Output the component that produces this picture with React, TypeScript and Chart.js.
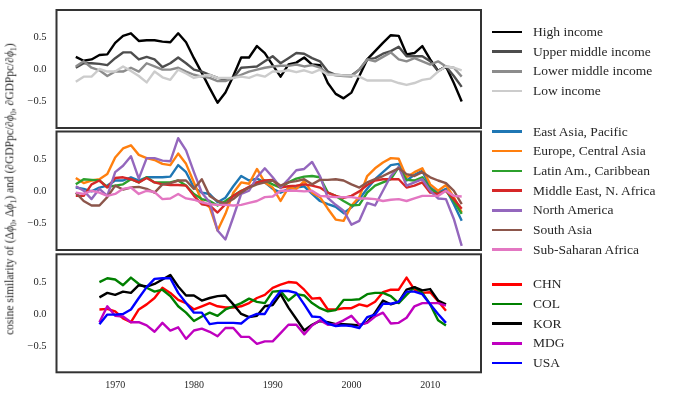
import { useEffect, useRef } from 'react';
import { Chart, registerables } from 'chart.js';

Chart.register(...registerables);

// years for the income / region panels
const YEARS = [
  1965, 1966, 1967, 1968, 1969, 1970, 1971, 1972, 1973, 1974,
  1975, 1976, 1977, 1978, 1979, 1980, 1981, 1982, 1983, 1984,
  1985, 1986, 1987, 1988, 1989, 1990, 1991, 1992, 1993, 1994,
  1995, 1996, 1997, 1998, 1999, 2000, 2001, 2002, 2003, 2004,
  2005, 2006, 2007, 2008, 2009, 2010, 2011, 2012, 2013, 2014,
];
// years for the country panel
const COUNTRY_YEARS = [
  1968, 1969, 1970, 1971, 1972, 1973, 1974, 1975, 1976, 1977,
  1978, 1979, 1980, 1981, 1982, 1983, 1984, 1985, 1986, 1987,
  1988, 1989, 1990, 1991, 1992, 1993, 1994, 1995, 1996, 1997,
  1998, 1999, 2000, 2001, 2002, 2003, 2004, 2005, 2006, 2007,
  2008, 2009, 2010, 2011, 2012,
];

const X_TICKS = [1970, 1980, 1990, 2000, 2010];
const Y_TICKS = [-0.5, 0, 0.5];

// income groups
const INCOME_LABELS = ['High income', 'Upper middle income', 'Lower middle income', 'Low income'];
const INCOME_COLORS = ['#000000', '#4d4d4d', '#8c8c8c', '#cccccc'];
const HIGH_INCOME = [
  0.20, 0.14, 0.16, 0.23, 0.24, 0.42, 0.53, 0.57, 0.45, 0.46,
  0.46, 0.44, 0.43, 0.57, 0.43, 0.18, -0.05, -0.29, -0.52, -0.36,
  -0.10, 0.19, 0.19, 0.37, 0.26, 0.07, -0.11, 0.08, 0.11, 0.19,
  0.08, 0.07, -0.21, -0.38, -0.45, -0.36, -0.10, 0.16, 0.29, 0.42,
  0.54, 0.53, 0.24, 0.26, 0.37, 0.16, -0.02, 0.05, -0.21, -0.50,
];
const UPPER_MIDDLE = [
  0.03, 0.10, 0.10, 0.09, 0.07, 0.18, 0.27, 0.27, 0.16, 0.20,
  0.16, 0.04, 0.10, 0.19, 0.10, 0.00, -0.03, -0.08, -0.13, -0.16,
  -0.13, 0.03, 0.04, 0.05, 0.13, 0.21, 0.10, 0.18, 0.26, 0.25,
  0.18, 0.13, -0.03, -0.08, -0.09, -0.09, 0.00, 0.16, 0.18, 0.25,
  0.29, 0.36, 0.21, 0.21, 0.21, 0.13, -0.02, 0.05, -0.10, -0.27,
];
const LOWER_MIDDLE = [
  0.05, 0.13, 0.03, -0.01, -0.10, -0.03, -0.03, 0.03, -0.03, 0.10,
  0.05, 0.00, 0.00, 0.03, -0.03, -0.08, -0.11, -0.13, -0.18, -0.18,
  -0.13, -0.08, -0.03, 0.00, 0.03, 0.05, 0.06, 0.06, 0.08, 0.05,
  0.07, 0.03, -0.06, -0.09, -0.10, -0.11, 0.00, 0.16, 0.13, 0.20,
  0.27, 0.16, 0.13, 0.18, 0.13, 0.08, 0.13, 0.05, 0.03, -0.11,
];
const LOW_INCOME = [
  -0.19, -0.11, -0.11, 0.01, -0.03, -0.03, 0.05, -0.02, -0.10, -0.20,
  -0.03, -0.12, -0.16, 0.00, -0.06, -0.13, -0.10, -0.08, -0.13, -0.13,
  -0.13, -0.11, -0.13, -0.08, -0.11, -0.03, -0.03, -0.01, -0.04, -0.01,
  -0.05, 0.00, -0.08, -0.08, -0.09, -0.09, -0.11, -0.17, -0.17, -0.17,
  -0.17, -0.21, -0.24, -0.21, -0.16, -0.14, -0.03, 0.05, 0.03, -0.01,
];

// regions
const REGION_LABELS = [
  'East Asia, Pacific', 'Europe, Central Asia', 'Latin Am., Caribbean',
  'Middle East, N. Africa', 'North America', 'South Asia', 'Sub-Saharan Africa',
];
const REGION_COLORS = ['#1f77b4', '#ff7f0e', '#2ca02c', '#d62728', '#9467bd', '#8c564b', '#e377c2'];
const EAST_ASIA = [
  0.06, 0.04, 0.00, 0.06, 0.09, 0.17, 0.17, 0.22, 0.17, 0.22,
  0.22, 0.22, 0.23, 0.41, 0.30, 0.06, -0.02, -0.04, -0.17, -0.10,
  0.08, 0.24, 0.17, 0.20, 0.14, 0.04, -0.02, 0.04, 0.06, 0.08,
  -0.04, -0.15, -0.20, -0.24, -0.34, -0.25, -0.12, 0.04, 0.19, 0.30,
  0.41, 0.43, 0.17, 0.26, 0.32, 0.06, -0.02, 0.04, -0.20, -0.46,
];
const EUROPE = [
  0.21, 0.13, 0.17, 0.19, 0.27, 0.53, 0.67, 0.72, 0.57, 0.52,
  0.49, 0.43, 0.41, 0.59, 0.43, 0.14, -0.15, -0.25, -0.61, -0.35,
  -0.02, 0.14, 0.12, 0.35, 0.14, 0.06, -0.15, 0.06, 0.04, 0.16,
  -0.02, -0.09, -0.27, -0.44, -0.46, -0.22, -0.09, 0.24, 0.36, 0.45,
  0.52, 0.51, 0.22, 0.30, 0.36, 0.11, 0.01, 0.10, -0.09, -0.33,
];
const LATIN = [
  0.11, 0.19, 0.18, 0.17, 0.07, 0.09, 0.11, 0.19, 0.14, 0.22,
  0.14, 0.14, 0.14, 0.17, 0.09, -0.04, -0.12, -0.15, -0.22, -0.15,
  -0.07, 0.01, 0.06, 0.14, 0.17, 0.11, 0.06, 0.14, 0.20, 0.23,
  0.24, 0.22, -0.02, -0.07, -0.15, -0.22, -0.21, -0.02, 0.09, 0.14,
  0.19, 0.38, 0.18, 0.17, 0.22, 0.04, -0.04, 0.01, -0.15, -0.35,
];
const MIDDLE_EAST = [
  -0.07, -0.07, 0.11, 0.17, 0.06, 0.21, 0.22, 0.19, 0.14, 0.21,
  0.14, 0.11, 0.10, 0.10, 0.09, -0.07, -0.20, -0.22, -0.33, -0.20,
  -0.07, 0.00, 0.07, 0.14, 0.17, 0.18, 0.06, 0.08, 0.09, 0.11,
  0.09, 0.06, -0.02, -0.07, -0.10, -0.07, 0.00, 0.10, 0.17, 0.19,
  0.19, 0.19, 0.06, 0.09, 0.14, -0.02, -0.04, 0.01, -0.12, -0.27,
];
const NORTH_AMERICA = [
  0.08, 0.01, -0.12, 0.04, -0.07, 0.30, 0.40, 0.55, 0.20, 0.52,
  0.52, 0.48, 0.47, 0.83, 0.64, 0.30, -0.02, -0.17, -0.61, -0.75,
  -0.40, -0.04, 0.01, 0.22, 0.36, 0.22, 0.06, 0.19, 0.33, 0.35,
  0.46, 0.24, -0.10, -0.21, -0.30, -0.52, -0.46, -0.18, -0.22, 0.01,
  0.24, 0.38, 0.09, 0.14, 0.19, 0.01, -0.11, -0.12, -0.43, -0.85,
];
const SOUTH_ASIA = [
  -0.02, -0.15, -0.22, -0.22, -0.09, 0.09, 0.03, 0.06, 0.07, 0.04,
  -0.02, 0.11, 0.13, 0.17, 0.17, 0.04, 0.19, -0.07, -0.15, -0.19,
  -0.12, -0.02, 0.06, 0.11, 0.14, 0.17, 0.09, 0.14, 0.16, 0.19,
  0.11, 0.18, 0.18, 0.19, 0.17, 0.11, 0.06, 0.14, 0.19, 0.24,
  0.30, 0.36, 0.27, 0.24, 0.30, 0.22, 0.17, 0.13, 0.01, -0.20,
];
const SUB_SAHARAN = [
  -0.02, -0.04, 0.01, -0.02, -0.07, -0.04, 0.04, 0.06, -0.04, 0.01,
  -0.01, -0.12, -0.11, -0.04, -0.11, -0.13, -0.17, -0.20, -0.21, -0.21,
  -0.22, -0.21, -0.18, -0.15, -0.09, -0.08, 0.01, 0.01, 0.01, 0.00,
  0.01, -0.07, -0.08, -0.09, -0.09, -0.09, -0.11, -0.11, -0.12, -0.15,
  -0.13, -0.12, -0.15, -0.11, -0.07, -0.07, -0.07, 0.01, -0.07, -0.08,
];

// countries
const COUNTRY_LABELS = ['CHN', 'COL', 'KOR', 'MDG', 'USA'];
const COUNTRY_COLORS = ['#ff0000', '#008000', '#000000', '#bf00bf', '#0000ff'];
const CHN = [
  0.07, 0.08, 0.04, -0.07, -0.13, 0.07, 0.15, 0.25, 0.41, 0.33,
  0.22, 0.17, 0.07, 0.12, 0.17, 0.12, 0.10, 0.10, 0.12, 0.17,
  0.25, 0.30, 0.41, 0.46, 0.50, 0.49, 0.38, 0.24, 0.25, 0.07,
  0.07, 0.09, 0.09, 0.15, 0.12, 0.19, 0.34, 0.38, 0.38, 0.57,
  0.38, 0.33, 0.34, 0.20, 0.05,
];
const COL = [
  0.50, 0.56, 0.54, 0.45, 0.57, 0.47, 0.41, 0.35, 0.38, 0.28,
  0.12, 0.02, -0.11, -0.04, 0.02, -0.03, 0.07, 0.12, 0.17, 0.24,
  0.19, 0.17, 0.35, 0.36, 0.21, 0.31, 0.29, 0.17, 0.09, 0.04,
  0.06, 0.22, 0.22, 0.23, 0.31, 0.33, 0.33, 0.28, 0.17, 0.30,
  0.42, 0.33, 0.15, -0.10, -0.18,
];
const KOR = [
  0.26, 0.33, 0.30, 0.35, 0.33, 0.45, 0.43, 0.47, 0.54, 0.61,
  0.43, 0.29, 0.29, 0.21, 0.25, 0.28, 0.29, 0.15, 0.00, -0.05,
  -0.03, 0.12, 0.14, 0.31, 0.10, -0.08, -0.26, -0.17, -0.11, -0.13,
  -0.16, -0.16, -0.17, -0.18, -0.13, 0.02, 0.21, 0.15, 0.19, 0.38,
  0.42, 0.37, 0.39, 0.21, 0.15,
];
const MDG = [
  -0.13, 0.12, -0.03, -0.04, -0.13, -0.13, -0.18, -0.28, -0.14, -0.26,
  -0.21, -0.39, -0.26, -0.23, -0.28, -0.35, -0.22, -0.22, -0.36, -0.36,
  -0.47, -0.43, -0.43, -0.30, -0.17, -0.17, -0.32, -0.18, -0.10, -0.17,
  -0.16, -0.10, -0.03, -0.17, -0.14, -0.04, 0.02, -0.15, -0.14, -0.06,
  0.12, 0.17, 0.17, 0.17, 0.13,
];
const USA = [
  -0.16, -0.01, -0.01, 0.00, 0.07, 0.25, 0.42, 0.55, 0.56, 0.56,
  0.33, 0.17, 0.02, 0.02, -0.16, -0.14, -0.14, -0.14, -0.15, -0.05,
  0.00, 0.00, 0.20, 0.36, 0.36, 0.33, 0.15, -0.04, -0.05, -0.15,
  -0.19, -0.18, -0.19, -0.22, -0.05, -0.01, 0.16, 0.16, 0.19, 0.35,
  0.35, 0.31, 0.15, 0.00, -0.14,
];

const FONT = "'Liberation Serif', 'Times New Roman', serif";
const TEXT = '#262626';
const W = 675;
const H = 401;

type Panel = {
  years: number[];
  labels: string[];
  colors: string[];
  series: number[][];
  top: number;
  bottom: number;
  legendTop: number;
  showX: boolean;
};

const PANELS: Panel[] = [
  {
    years: YEARS, labels: INCOME_LABELS, colors: INCOME_COLORS,
    series: [HIGH_INCOME, UPPER_MIDDLE, LOWER_MIDDLE, LOW_INCOME],
    top: 10, bottom: 128, legendTop: 32, showX: false,
  },
  {
    years: YEARS, labels: REGION_LABELS, colors: REGION_COLORS,
    series: [EAST_ASIA, EUROPE, LATIN, MIDDLE_EAST, NORTH_AMERICA, SOUTH_ASIA, SUB_SAHARAN],
    top: 131.5, bottom: 250, legendTop: 131.5, showX: false,
  },
  {
    years: COUNTRY_YEARS, labels: COUNTRY_LABELS, colors: COUNTRY_COLORS,
    series: [CHN, COL, KOR, MDG, USA],
    top: 254.3, bottom: 372.3, legendTop: 284.3, showX: true,
  },
];

const boxPlugin = {
  id: 'panelBox',
  afterDraw(chart: Chart) {
    const { ctx, chartArea } = chart;
    ctx.save();
    ctx.strokeStyle = '#333333';
    ctx.lineWidth = 2;
    ctx.strokeRect(chartArea.left, chartArea.top, chartArea.right - chartArea.left, chartArea.bottom - chartArea.top);
    ctx.restore();
  },
};

const X_AXIS_H = 20;

function PanelChart({ panel }: { panel: Panel }) {
  const ref = useRef<HTMLCanvasElement>(null);

  useEffect(() => {
    if (!ref.current) return;
    const chart = new Chart(ref.current, {
      type: 'line',
      data: {
        datasets: panel.series.map((s, i) => ({
          label: panel.labels[i],
          data: s.map((v, j) => ({ x: panel.years[j], y: v })),
          borderColor: panel.colors[i],
          backgroundColor: panel.colors[i],
          borderWidth: 2.4,
          pointRadius: 0,
          tension: 0,
          borderJoinStyle: 'round' as const,
          order: -i,
        })),
      },
      options: {
        responsive: false,
        animation: false,
        events: [],
        layout: {
          padding: {
            left: 0,
            right: W - 481,
            top: panel.top,
            bottom: panel.showX ? H - panel.bottom - X_AXIS_H : H - panel.bottom,
          },
        },
        plugins: { legend: { display: false }, tooltip: { enabled: false } },
        scales: {
          x: {
            type: 'linear',
            min: 1962.55,
            max: 2016.45,
            display: panel.showX,
            grid: { display: false, drawTicks: false },
            border: { display: false },
            afterBuildTicks: (scale: any) => {
              scale.ticks = X_TICKS.map((v) => ({ value: v }));
            },
            afterFit: (scale: any) => {
              scale.height = panel.showX ? X_AXIS_H : 0;
              scale.paddingLeft = 0;
              scale.paddingRight = 0;
            },
            ticks: {
              padding: 7,
              color: TEXT,
              font: { family: FONT, size: 10 },
              callback: (v: any) => String(v),
              maxRotation: 0,
            },
          },
          y: {
            type: 'linear',
            min: -0.915,
            max: 0.935,
            grid: { display: false, drawTicks: false },
            border: { display: false },
            afterBuildTicks: (scale: any) => {
              scale.ticks = Y_TICKS.map((v) => ({ value: v }));
            },
            afterFit: (scale: any) => {
              scale.width = 56.5;
              scale.paddingTop = 0;
              scale.paddingBottom = 0;
            },
            ticks: {
              padding: 10,
              color: TEXT,
              font: { family: FONT, size: 10.5 },
              callback: (v: any) => (v < 0 ? '\u2212' : '') + Math.abs(Number(v)).toFixed(1),
            },
          },
        },
      },
      plugins: [boxPlugin],
    });
    return () => chart.destroy();
  }, [panel]);

  return (
    <canvas
      ref={ref}
      width={W}
      height={H}
      style={{ position: 'absolute', left: 0, top: 0 }}
    />
  );
}

function Legend({ panel }: { panel: Panel }) {
  return (
    <>
      {panel.labels.map((label, i) => (
        <div
          key={label}
          style={{
            position: 'absolute',
            left: 492,
            top: panel.legendTop + i * 19.7 - 10,
            height: 20,
            display: 'flex',
            alignItems: 'center',
            whiteSpace: 'nowrap',
          }}
        >
          <span style={{ display: 'inline-block', width: 30, height: 2.5, background: panel.colors[i] }} />
          <span style={{ marginLeft: 11, fontFamily: FONT, fontSize: 13.5, color: TEXT, lineHeight: '20px' }}>
            {label}
          </span>
        </div>
      ))}
    </>
  );
}

export default function App() {
  return (
    <div
      style={{
        position: 'absolute',
        left: 0,
        top: 0,
        width: W,
        height: H,
        background: '#ffffff',
        overflow: 'hidden',
      }}
    >
      {PANELS.map((p, i) => (
        <PanelChart key={i} panel={p} />
      ))}
      {PANELS.map((p, i) => (
        <Legend key={'l' + i} panel={p} />
      ))}
      <div
        style={{
          position: 'absolute',
          left: 11,
          top: 189,
          transform: 'translate(-50%, -50%) rotate(-90deg)',
          whiteSpace: 'nowrap',
          fontFamily: FONT,
          fontSize: 11.5,
          color: TEXT,
        }}
      >
        cosine similarity of (Δ<i>ϕ</i><sub style={{ fontSize: 8 }}>0</sub>, Δ<i>ϕ</i>
        <sub style={{ fontSize: 8 }}>1</sub>) and (∂GDPpc/∂<i>ϕ</i><sub style={{ fontSize: 8 }}>0</sub>, ∂GDPpc/∂
        <i>ϕ</i><sub style={{ fontSize: 8 }}>1</sub>)
      </div>
    </div>
  );
}
